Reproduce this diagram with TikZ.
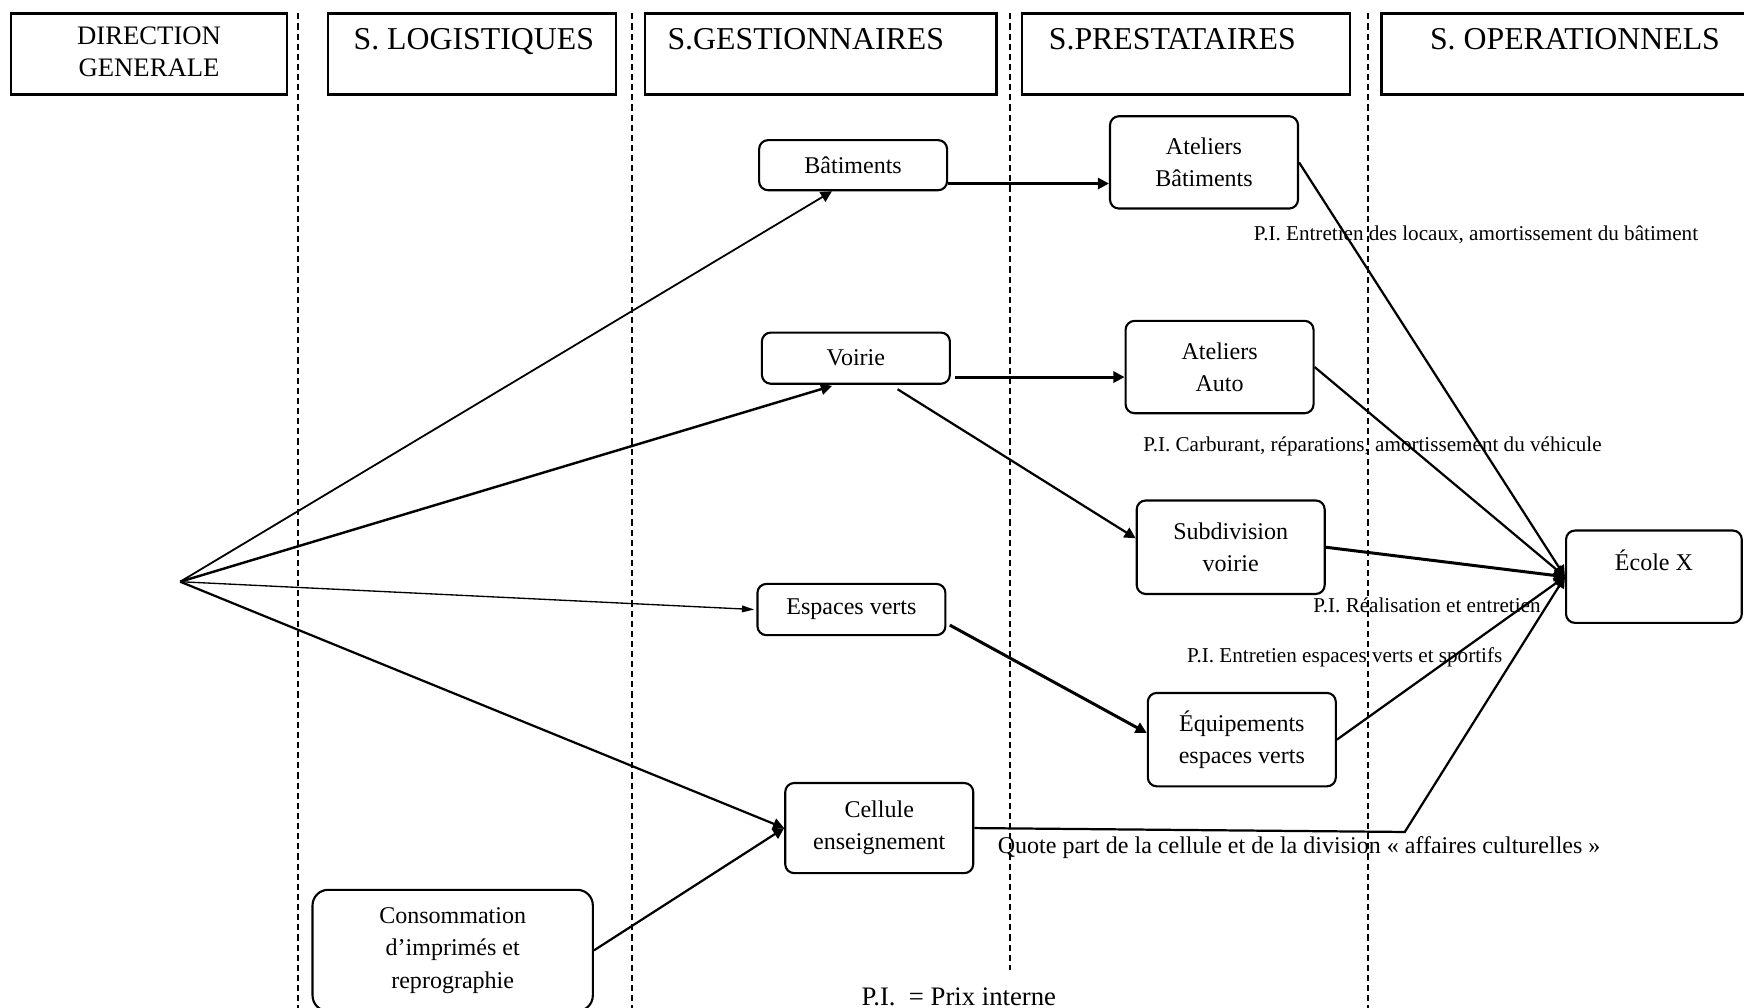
\documentclass[tikz,border=0pt]{standalone}
\usepackage{fontspec}
\setmainfont{Liberation Serif}
\usetikzlibrary{arrows.meta}

\begin{document}
\begin{tikzpicture}[x=1pt, y=-1pt,
    entete/.style={draw, line width=2.1pt},
    titre/.style={font=\fontsize{28.6}{34}\selectfont},
    boite/.style={draw, rounded corners=8pt, line width=1.9pt, align=center, inner sep=0pt,
        minimum width=169pt, font=\fontsize{21.6}{29}\selectfont},
    prix/.style={font=\fontsize{19}{23}\selectfont},
    fl/.style={line width=2pt, -{Triangle[length=10pt, width=10pt]}},
    colonne/.style={dash pattern=on 5.5pt off 3.6pt, line width=1.5pt}]

    \useasboundingbox (0,0) rectangle (1568,906);

    \draw[entete] (10,12) rectangle (258,85);
    \draw[entete] (295,12) rectangle (554,85);
    \draw[entete] (580,12) rectangle (896,85);
    \draw[entete] (919,12) rectangle (1214,85);
    \draw[entete] (1242,12) rectangle (1580,85);

    \node[font=\fontsize{24}{28}\selectfont, align=center] (DG) at (134,46.5) {DIRECTION\\GENERALE};
    \node[titre, anchor=base] (SL) at (426,44.5) {S. LOGISTIQUES};
    \node[titre, anchor=base] (SG) at (724.5,44.5) {S.GESTIONNAIRES};
    \node[titre, anchor=base] (SP) at (1054,44.5) {S.PRESTATAIRES};
    \node[titre, anchor=base] (SO) at (1416,44.5) {S. OPERATIONNELS};

    \draw[colonne] (268,12) -- (268,906);
    \draw[colonne] (568,12) -- (568,906);
    \draw[colonne] (908,12) -- (908,872);
    \draw[colonne] (1230,12) -- (1230,906);

    \node[boite, minimum height=45pt] (Bat) at (767,148.5) {Bâtiments};
    \node[boite, minimum height=83pt] (AtB) at (1082.5,146) {Ateliers\\Bâtiments};
    \node[boite, minimum height=46pt] (Voi) at (769.5,322) {Voirie};
    \node[boite, minimum height=83pt] (AtA) at (1096.5,330) {Ateliers\\Auto};
    \node[boite, minimum height=84pt] (Sub) at (1106.5,492) {Subdivision\\voirie};
    \node[boite, minimum height=46pt] (Esp) at (765.5,548) {Espaces verts};
    \node[boite, minimum height=84pt] (Equ) at (1116.5,665) {Équipements\\espaces verts};
    \node[boite, minimum height=81pt] (Cel) at (790.5,744.5) {Cellule\\enseignement};
    \node[boite, minimum width=158pt, minimum height=83pt] (Eco) at (1487,518.5) {École X\\~};
    \node[boite, rounded corners=14pt, minimum width=252pt, minimum height=109pt] (Con) at (407,854.5)
        {Consommation\\d’imprimés et\\reprographie};

    \coordinate (O) at (162,523);
    \draw[fl, line width=1.6pt] (O) -- ([xshift=-19pt]Bat.south);
    \draw[fl, line width=2.2pt] (O) -- ([xshift=-21.5pt, yshift=-1pt]Voi.south);
    \draw[line width=1.2pt, -{Triangle[length=11pt, width=6pt]}] (O) -- ([xshift=-2pt]Esp.west);
    \draw[fl] (O) -- (Cel.west);
    \draw[fl] (Con.east) -- (Cel.west);

    \draw[fl, line width=2.7pt] ([yshift=-16.5pt]Bat.east) -- ([yshift=-19pt]AtB.west);
    \draw[fl, line width=2.7pt] ([xshift=4pt, yshift=-17pt]Voi.east) -- ([yshift=-9pt]AtA.west);
    \draw[fl] ([xshift=37.5pt, yshift=-4pt]Voi.south) -- ([yshift=8pt]Sub.west);
    \draw[fl, line width=2.7pt] ([xshift=3pt, yshift=-14pt]Esp.east) -- ([yshift=6pt]Equ.west);

    \draw[fl] (AtB.east) -- (Eco.west);
    \draw[fl] (AtA.east) -- (Eco.west);
    \draw[fl, line width=2.7pt] (Sub.east) -- (Eco.west);
    \draw[fl] (Equ.east) -- (Eco.west);
    \coordinate (K) at (1263,748);
    \draw[fl] (Cel.east) -- (K) -- (Eco.west);

    \node[prix] (L1) at (1327,211) {P.I. Entretien des locaux, amortissement du bâtiment};
    \node[prix] (L2) at (1234,401) {P.I. Carburant, réparations, amortissement du véhicule};
    \node[prix] (L3) at (1283,544) {P.I. Réalisation et entretien};
    \node[prix] (L4) at (1209,591) {P.I. Entretien espaces verts et sportifs};
    \node[font=\fontsize{21.6}{26}\selectfont] (L5) at (1168,762)
        {Quote part de la cellule et de la division « affaires culturelles »};
    \node[font=\fontsize{24}{28}\selectfont] (PI) at (862,896) {P.I.\ \ = Prix interne};

\end{tikzpicture}
\end{document}
